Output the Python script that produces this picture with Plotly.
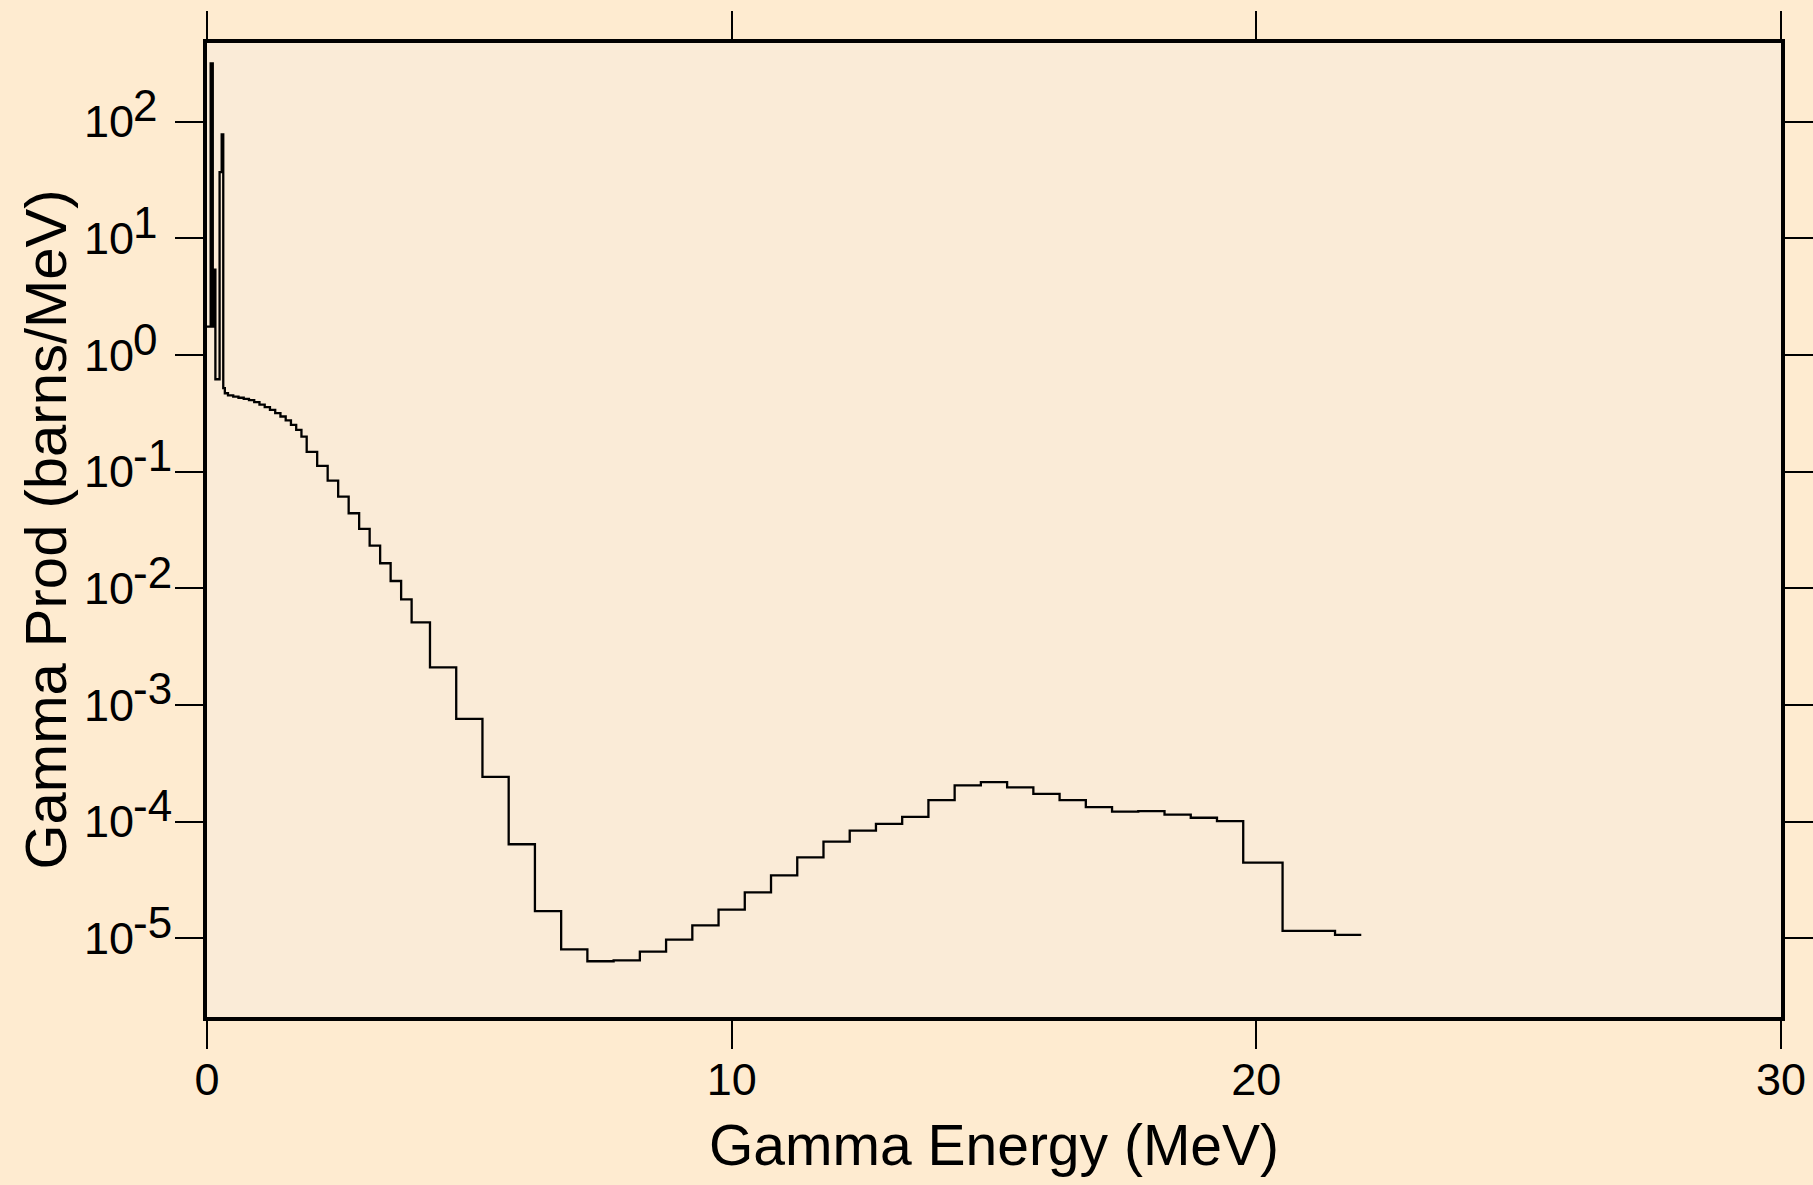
import plotly.graph_objects as go

# Histogram bin edges (MeV) and gamma production per bin (barns/MeV)
energy_edges = [
    0.0, 0.07, 0.11, 0.13, 0.16, 0.24, 0.28, 0.31, 0.34, 0.40,
    0.5, 0.6, 0.7, 0.8, 0.9, 1.0, 1.1, 1.2, 1.3, 1.4, 1.5, 1.6, 1.7, 1.8, 1.9,
    2.1, 2.3, 2.5, 2.7, 2.9, 3.1, 3.3, 3.5, 3.7, 3.9,
    4.25, 4.75, 5.25, 5.75, 6.25, 6.75, 7.25, 7.75, 8.25, 8.75, 9.25, 9.75,
    10.25, 10.75, 11.25, 11.75, 12.25, 12.75, 13.25, 13.75, 14.25, 14.75,
    15.25, 15.75, 16.25, 16.75, 17.25, 17.75, 18.25, 18.75, 19.25, 19.75,
    20.5, 21.5, 22.0,
]
gamma_prod = [
    1.75, 316, 1.75, 5.4, 0.62, 37, 78, 0.52, 0.47,
    0.45, 0.44, 0.43, 0.42, 0.41, 0.395, 0.375, 0.357, 0.338, 0.318,
    0.297, 0.275, 0.252, 0.228, 0.20,
    0.148, 0.112, 0.0838, 0.0611, 0.044, 0.0323, 0.0232, 0.0164, 0.01156, 0.00805,
    5.1e-3, 2.1e-3, 7.6e-4, 2.42e-4, 6.4e-5, 1.71e-5, 8.05e-6, 6.36e-6, 6.48e-6,
    7.69e-6, 9.75e-6, 1.29e-5, 1.76e-5, 2.48e-5, 3.47e-5, 4.94e-5, 6.74e-5,
    8.38e-5, 9.57e-5, 1.10e-4, 1.53e-4, 2.05e-4, 2.18e-4, 1.97e-4, 1.73e-4,
    1.53e-4, 1.33e-4, 1.22e-4, 1.23e-4, 1.15e-4, 1.08e-4, 1.01e-4,
    4.46e-5, 1.16e-5, 1.07e-5,
]

x_ticks = [0, 10, 20, 30]
y_tick_exps = [-5, -4, -3, -2, -1, 0, 1, 2]

FONT = "Liberation Sans, Arial, sans-serif"
PAPER = "#FEEBD0"
PLOT_BG = "#FAEBD7"
TICK_SIZE = 45
EXP_SIZE = 44
TITLE_SIZE = 58

# figure geometry (px)
W, H = 1813, 1185
M_L, M_R, M_T, M_B = 207, 32, 43, 168
PLOT_W = W - M_L - M_R

fig = go.Figure(
    go.Scatter(
        x=energy_edges,
        y=gamma_prod + [gamma_prod[-1]],
        mode="lines",
        line=dict(shape="hv", color="black", width=2.3),
        hoverinfo="skip",
    )
)

axis_common = dict(
    showline=True,
    linecolor="black",
    linewidth=4,
    mirror="allticks",
    ticks="outside",
    ticklen=28,
    tickwidth=1.5,
    tickcolor="black",
    showgrid=False,
    zeroline=False,
    automargin=False,
    tickfont=dict(family=FONT, size=TICK_SIZE, color="black"),
)

fig.update_xaxes(
    range=[0, 30],
    tickvals=x_ticks,
    ticktext=[str(t) for t in x_ticks],
    ticklabelstandoff=-8,
    title=dict(text="Gamma Energy (MeV)", font=dict(family=FONT, size=57, color="black"),
               standoff=22),
    **axis_common,
)

# the base "10" of each decade label is the tick label; the exponent is set
# beside it at almost full size, raised above the baseline
fig.update_yaxes(
    type="log",
    range=[-5.6745, 2.6745],
    tickvals=[10.0 ** e for e in y_tick_exps],
    ticktext=["10"] * len(y_tick_exps),
    ticklabelstandoff=32,
    **axis_common,
)

exp_x = (131 - M_L) / PLOT_W
for e in y_tick_exps:
    fig.add_annotation(
        x=exp_x, xref="paper", xanchor="left",
        y=e, yref="y", yanchor="middle", yshift=16,
        text=str(e), showarrow=False,
        font=dict(family=FONT, size=EXP_SIZE, color="black"),
    )

# vertical axis title
fig.add_annotation(
    x=(44.5 - M_L) / PLOT_W, xref="paper", xanchor="center",
    y=0.5, yref="paper", yanchor="middle",
    text="Gamma Prod (barns/MeV)", textangle=-90, showarrow=False,
    font=dict(family=FONT, size=TITLE_SIZE, color="black"),
)

fig.update_layout(
    width=W,
    height=H,
    paper_bgcolor=PAPER,
    plot_bgcolor=PLOT_BG,
    margin=dict(l=M_L, r=M_R, t=M_T, b=M_B),
    showlegend=False,
)

fig.write_html("out.html", config={"displayModeBar": False})
